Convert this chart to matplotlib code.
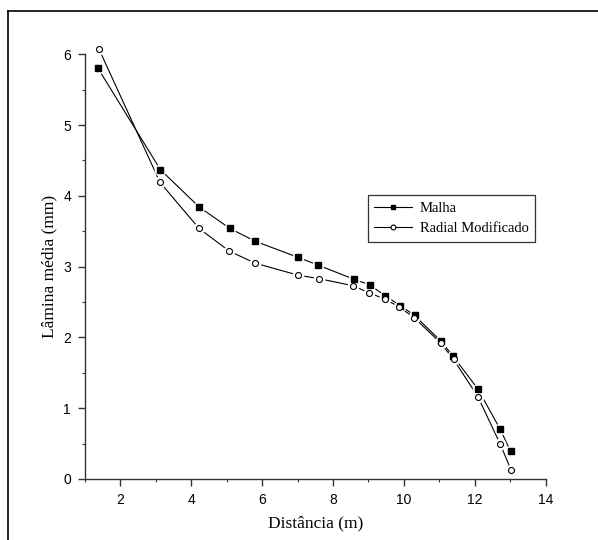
import matplotlib
matplotlib.use("Agg")
import matplotlib.pyplot as plt
from matplotlib.lines import Line2D
from matplotlib.ticker import MultipleLocator

# Malha (filled squares)
malha_x = [1.36, 3.13, 4.23, 5.09, 5.80, 7.02, 7.59, 8.60, 9.05, 9.46,
           9.90, 10.30, 11.04, 11.38, 12.09, 12.72, 13.01]
malha_y = [5.81, 4.37, 3.84, 3.54, 3.36, 3.13, 3.02, 2.82, 2.74, 2.59,
           2.45, 2.31, 1.95, 1.74, 1.27, 0.70, 0.39]

# Radial Modificado (open circles)
radial_x = [1.40, 3.12, 4.22, 5.07, 5.80, 7.01, 7.61, 8.57, 9.02, 9.47,
            9.87, 10.29, 11.04, 11.40, 12.09, 12.72, 13.03]
radial_y = [6.07, 4.19, 3.54, 3.22, 3.05, 2.88, 2.83, 2.73, 2.63, 2.54,
            2.43, 2.28, 1.92, 1.69, 1.16, 0.49, 0.12]

x_ticks = [2, 4, 6, 8, 10, 12, 14]
y_ticks = [0, 1, 2, 3, 4, 5, 6]

serif = "Liberation Serif"
sans = "Liberation Sans"

fig = plt.figure(figsize=(5.98, 5.40), dpi=100)
ax = fig.add_axes([0.142, 0.113, 0.7705, 0.7864])

# outer frame (top and left edges only, like the source image)
fig.add_artist(Line2D([8 / 598, 1.0], [1 - 11 / 540, 1 - 11 / 540],
                      transform=fig.transFigure, color="black", lw=1.2))
fig.add_artist(Line2D([8 / 598, 8 / 598], [0.0, 1 - 11 / 540],
                      transform=fig.transFigure, color="black", lw=1.2))

# lines with small gaps round the markers (Origin style)
for xs, ys in [(malha_x, malha_y), (radial_x, radial_y)]:
    ax.plot(xs, ys, color="black", lw=0.8, clip_on=False, zorder=2)
    ax.plot(xs, ys, ls="none", marker="o", ms=8.5, mfc="white",
            mec="none", clip_on=False, zorder=3)

ax.plot(malha_x, malha_y, ls="none", marker="s", ms=4, mfc="black",
        mec="black", clip_on=False, zorder=4)
ax.plot(radial_x, radial_y, ls="none", marker="o", ms=4.3, mfc="white",
        mec="black", mew=0.8, clip_on=False, zorder=4)

# legend handles look like -■- and -o-
h1 = Line2D([], [], color="black", lw=0.8, marker="s", ms=3.5,
            mfc="black", mec="black")
h2 = Line2D([], [], color="black", lw=0.8, marker="o", ms=3.5,
            mfc="white", mec="black", mew=0.8)
leg = ax.legend([h1, h2], ["Malha", "Radial Modificado"],
                loc="upper left", bbox_to_anchor=(0.614, 0.669),
                borderaxespad=0, frameon=True, fancybox=False,
                prop={"family": serif, "size": 10.5}, handlelength=2.6,
                handletextpad=0.5, borderpad=0.45, labelspacing=0.5)
leg.get_frame().set_edgecolor("black")
leg.get_frame().set_linewidth(0.9)

ax.set_xlim(1, 14)
ax.set_ylim(0, 6)
ax.set_xticks(x_ticks)
ax.set_yticks(y_ticks)
ax.xaxis.set_minor_locator(MultipleLocator(1))
ax.yaxis.set_minor_locator(MultipleLocator(0.5))

for side in ["top", "right"]:
    ax.spines[side].set_visible(False)
for side in ["left", "bottom"]:
    ax.spines[side].set_linewidth(1.0)
    ax.spines[side].set_color("#333333")

ax.tick_params(which="major", direction="out", length=5, width=1.0,
               color="#333333", labelsize=10, pad=5)
ax.tick_params(which="minor", direction="out", length=2.5, width=0.8,
               color="#333333")
for lab in ax.get_xticklabels() + ax.get_yticklabels():
    lab.set_fontfamily(sans)

ax.set_xlabel("Distância (m)", family=serif, fontsize=12.5, labelpad=6)
ax.set_ylabel("Lâmina média (mm)", family=serif, fontsize=12.5, labelpad=4)

fig.savefig("out.png", dpi=100)
